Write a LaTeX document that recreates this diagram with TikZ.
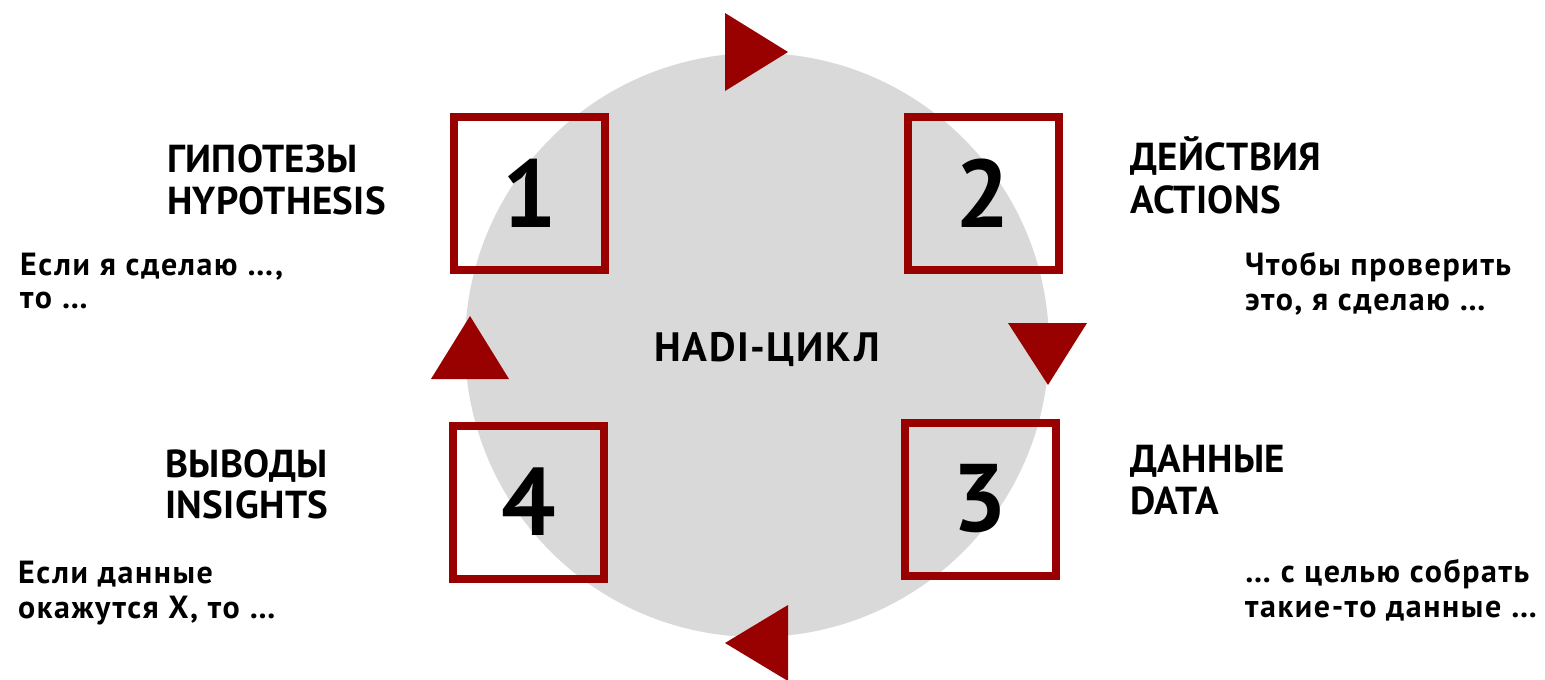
\documentclass[tikz,border=0pt]{standalone}
\usepackage{fontspec}
\setmainfont{PT Sans}
\definecolor{hred}{HTML}{990000}
\definecolor{hgrey}{HTML}{D9D9D9}
\begin{document}
\begin{tikzpicture}[x=1pt,y=-1pt,
  title/.style={font=\bfseries\fontsize{39}{39}\selectfont\addfontfeature{LetterSpace=1}, anchor=base west, inner sep=0pt},
  body/.style={font=\bfseries\fontsize{32}{32}\selectfont\addfontfeature{LetterSpace=5}, anchor=base west, inner sep=0pt},
  numbox/.style={draw=hred, line width=8pt, minimum width=151pt, minimum height=153pt, inner sep=0pt, font=\bfseries\fontsize{96}{96}\selectfont},
  tri/.style={fill=hred}]
\useasboundingbox (0,0) rectangle (1545,680);
\fill[hgrey] (757,345) circle (292pt);
% arrows
\fill[tri] (725,13) -- (788,52) -- (725,91) -- cycle;
\fill[tri] (1008,323) -- (1087,323) -- (1048,385) -- cycle;
\fill[tri] (788,605) -- (725,643) -- (788,681) -- cycle;
\fill[tri] (470,316) -- (509,379) -- (431,379) -- cycle;
% boxes
\node[numbox] (b1) at (529.5,193) {1};
\node[numbox] (b2) at (983,193.5) {2};
\node[numbox] (b3) at (980,499) {3};
\node[numbox] (b4) at (528.5,502) {4};
% centre
\node[font=\bfseries\fontsize{41}{41}\selectfont\addfontfeature{LetterSpace=4}, inner sep=0pt] (hadi) at (767,350) {HADI-ЦИКЛ};
% titles
\node[title] (t1a) at (167,172) {ГИПОТЕЗЫ};
\node[title] (t1b) at (167,214) {HYPOTHESIS};
\node[title] (t2a) at (1130,170) {ДЕЙСТВИЯ};
\node[title] (t2b) at (1130,213) {ACTIONS};
\node[title] (t4a) at (165,477) {ВЫВОДЫ};
\node[title] (t4b) at (165,518) {INSIGHTS};
\node[title] (t3a) at (1130,472) {ДАННЫЕ};
\node[title] (t3b) at (1130,514) {DATA};
% bodies
\node[body] (d1a) at (20,275) {Если я сделаю …,};
\node[body] (d1b) at (20,308) {то …};
\node[body] (d2a) at (1245,275) {Чтобы проверить};
\node[body] (d2b) at (1245,310) {это, я сделаю …};
\node[body] (d4a) at (18,583) {Если данные};
\node[body] (d4b) at (18,618) {окажутся X, то …};
\node[body] (d3a) at (1245,582) {… с целью собрать};
\node[body] (d3b) at (1245,617) {такие-то данные …};
\end{tikzpicture}
\end{document}
